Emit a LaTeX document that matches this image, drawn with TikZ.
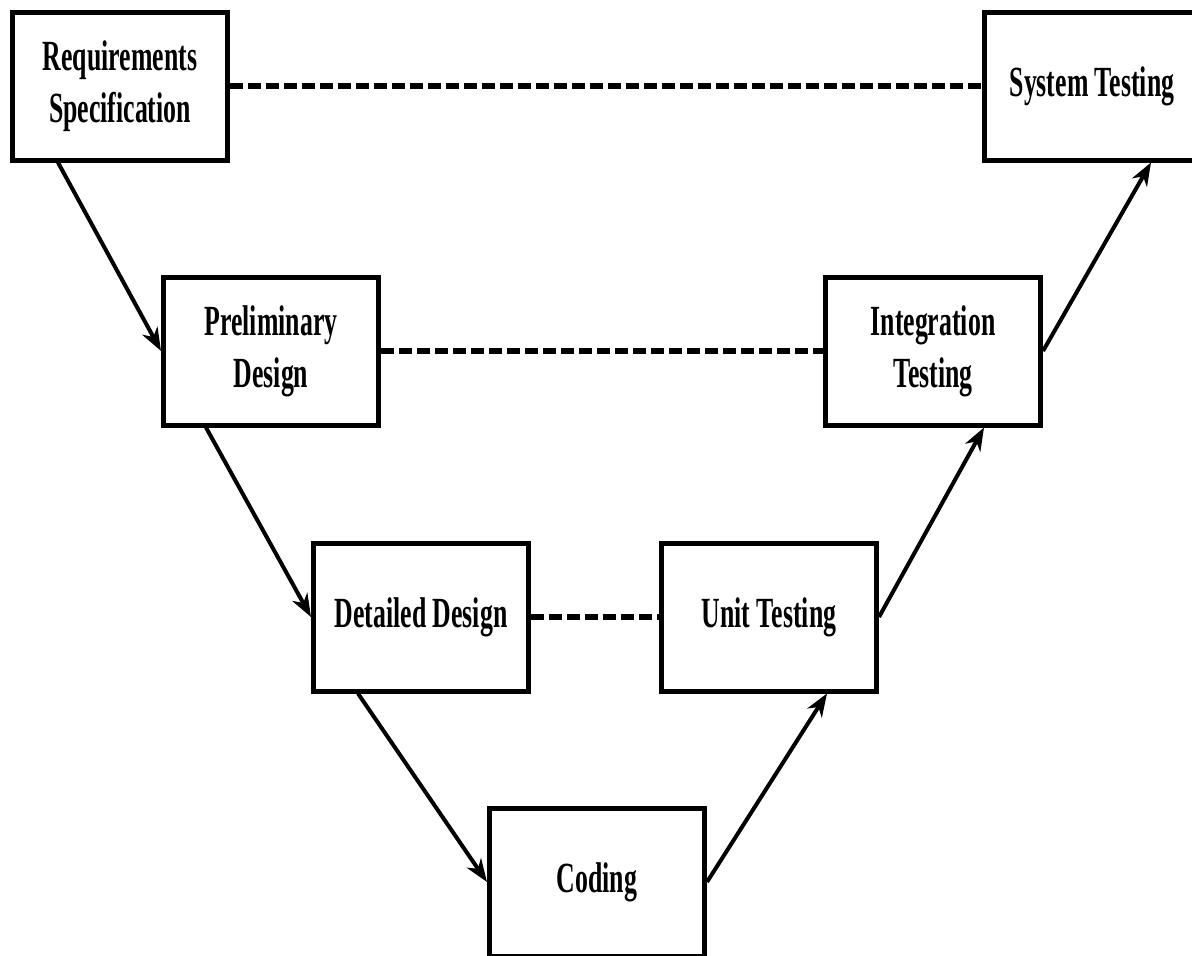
\documentclass[tikz,border=0pt]{standalone}
\usepackage{fontspec}
\usepackage{graphicx}
\setmainfont{Liberation Serif}
\usetikzlibrary{arrows.meta,calc}

% condensed bold label, one or more lines
\newcommand{\vlabel}[1]{\scalebox{0.6}[1]{\begin{tabular}{@{}c@{}}#1\end{tabular}}}

\tikzset{
  phase/.style={draw=black, line width=5pt, fill=white, inner sep=0pt,
    minimum width=215pt, minimum height=148pt,
    font=\fontsize{43}{52}\selectfont\bfseries},
  flow/.style={line width=4pt, -{Stealth[length=23pt,width=17pt,inset=7pt]}},
  pair/.style={line width=5.5pt, dash pattern=on 13pt off 5pt}
}

\begin{document}
\begin{tikzpicture}[x=1pt,y=-1pt]
  \useasboundingbox (0,0) rectangle (1192,956);
  \clip (0,0) rectangle (1192,956);

  % left leg of the V
  \node[phase] (req)  at (120,86)  {\vlabel{Requirements\\Specification}};
  \node[phase] (pre)  at (271,351) {\vlabel{Preliminary\\Design}};
  \node[phase] (det)  at (421,617) {\vlabel{Detailed Design}};
  % bottom
  \node[phase] (cod)  at (597,882) {\vlabel{Coding}};
  % right leg of the V
  \node[phase] (unit) at (769,617) {\vlabel{Unit Testing}};
  \node[phase] (int)  at (933,351) {\vlabel{Integration\\Testing}};
  \node[phase] (sys)  at (1092,86) {\vlabel{System Testing}};

  % verification links between matching levels
  \draw[pair] (req.east) -- (sys.west);
  \draw[pair] (pre.east) -- (int.west);
  \draw[pair] (det.east) -- (unit.west);

  % downward flow
  \draw[flow] ($(req.south west)+(48,0)$) -- (pre.west);
  \draw[flow] ($(pre.south west)+(45,0)$) -- (det.west);
  \draw[flow] ($(det.south west)+(47,0)$) -- (cod.west);
  % upward flow
  \draw[flow] (cod.east) -- ($(unit.south east)+(-52,0)$);
  \draw[flow] (unit.east) -- ($(int.south east)+(-59,0)$);
  \draw[flow] (int.east) -- ($(sys.south east)+(-51,0)$);
\end{tikzpicture}
\end{document}
